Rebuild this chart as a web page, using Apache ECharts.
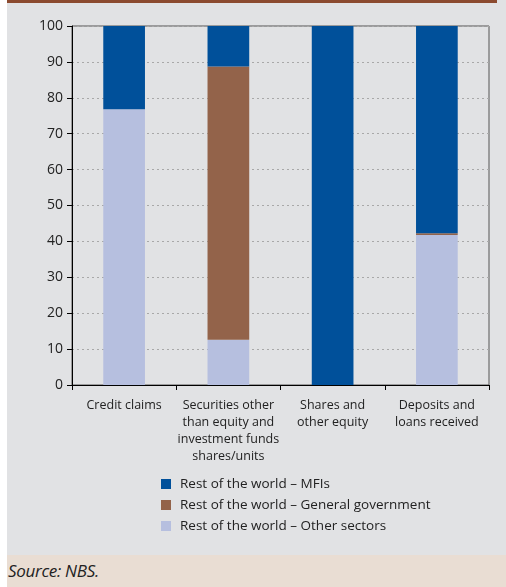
<!DOCTYPE html>
<html>
<head>
<meta charset="utf-8">
<script src="https://cdn.jsdelivr.net/npm/echarts@6/dist/echarts.min.js"></script>
<style>
  html, body { margin: 0; padding: 0; background: #ffffff; }
  #wrap { position: absolute; left: 7px; top: 0; width: 499px; height: 587px; background: #e1e2e4; }
  #topbar { position: absolute; left: 7px; top: 0; width: 490px; height: 3px; background: #8b4a2f; }
  #chart { position: absolute; left: 0; top: 0; width: 506px; height: 555px; }
  #foot { position: absolute; left: 7px; top: 555px; width: 499px; height: 32px; background: #e9ddd3; }
  #foot span { position: absolute; left: 1px; top: 4px; font: italic 17px "Open Sans", sans-serif; color: #222; letter-spacing: -0.3px; }
</style>
</head>
<body>
<div id="wrap"></div>
<div id="topbar"></div>
<div id="chart"></div>
<div id="foot"><span>Source: NBS.</span></div>
<script>
// Categories of instruments
const categories = [
  'Credit claims',
  'Securities other\nthan equity and\ninvestment funds\nshares/units',
  'Shares and\nother equity',
  'Deposits and\nloans received'
];
// Shares held by counterparty sector (percent)
const otherSectors = [76.8, 12.6, 0, 41.8];
const generalGov   = [0, 76.1, 0, 0.5];
const mfis         = [23.2, 11.3, 100, 57.7];
const yTicks = [0, 10, 20, 30, 40, 50, 60, 70, 80, 90, 100];

const chart = echarts.init(document.getElementById('chart'), null, { renderer: 'canvas' });
const font = '"Open Sans", sans-serif';

chart.setOption({
  animation: false,
  textStyle: { fontFamily: font },
  grid: {
    left: 72, top: 26, width: 417, height: 359,
    show: true, borderColor: '#555', borderWidth: 1, backgroundColor: 'transparent'
  },
  legend: {
    orient: 'vertical',
    left: 156, top: 472,
    itemWidth: 10, itemHeight: 10, itemGap: 7,
    icon: 'rect',
    textStyle: { fontFamily: font, fontSize: 13.5, color: '#222', padding: [0, 0, 0, 4] },
    data: ['Rest of the world – MFIs', 'Rest of the world – General government', 'Rest of the world – Other sectors']
  },
  xAxis: {
    type: 'category',
    data: categories,
    axisLine: { lineStyle: { color: '#000', width: 1 } },
    axisTick: { show: true, length: 5, lineStyle: { color: '#000' } },
    axisLabel: { color: '#222', fontSize: 12.5, lineHeight: 17, margin: 12, interval: 0 }
  },
  yAxis: {
    type: 'value',
    min: yTicks[0], max: yTicks[yTicks.length - 1], interval: 10,
    axisLine: { show: true, lineStyle: { color: '#000', width: 1 } },
    axisTick: { show: true, length: 5, lineStyle: { color: '#000' } },
    axisLabel: { color: '#222', fontSize: 14, margin: 9 },
    splitLine: { lineStyle: { color: '#a8a8a8', type: [2, 3], width: 1 } }
  },
  series: [
    {
      name: 'Rest of the world – Other sectors', type: 'bar', stack: 'total',
      data: otherSectors, barWidth: '40%', itemStyle: { color: '#b6bfdf' }
    },
    {
      name: 'Rest of the world – General government', type: 'bar', stack: 'total',
      data: generalGov, barWidth: '40%', itemStyle: { color: '#93634a' }
    },
    {
      name: 'Rest of the world – MFIs', type: 'bar', stack: 'total',
      data: mfis, barWidth: '40%', itemStyle: { color: '#00509a' }
    }
  ]
});
</script>
</body>
</html>
